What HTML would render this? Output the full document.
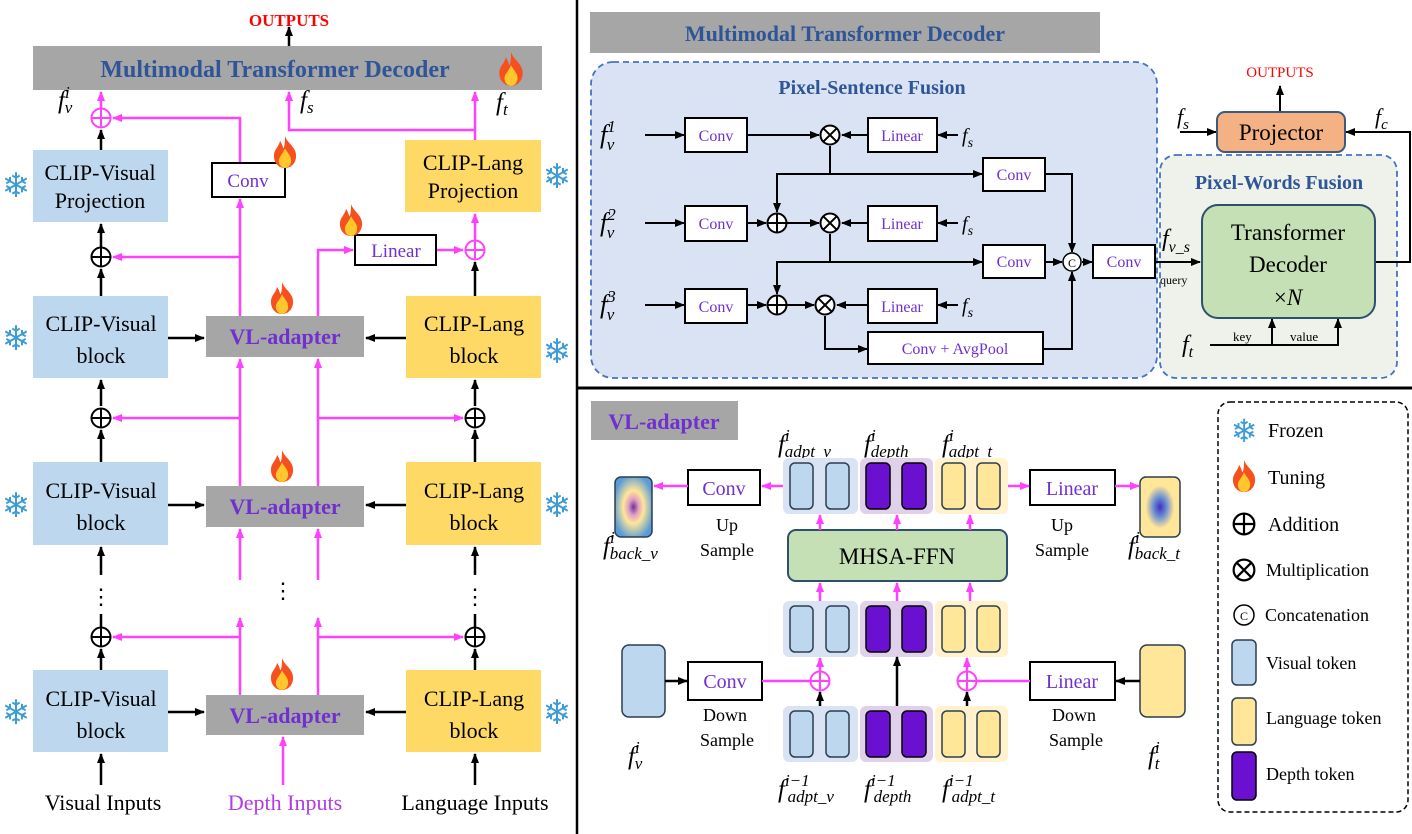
<!DOCTYPE html>
<html><head><meta charset="utf-8"><style>
html,body{margin:0;padding:0;background:#fff;}
svg{display:block;}
text{font-family:"Liberation Serif",serif;}
.m{font-style:italic;}
.sn{font-family:"DejaVu Sans",sans-serif;fill:#3d9bd6;}
</style></head><body>
<svg width="1412" height="834" viewBox="0 0 1412 834" xmlns="http://www.w3.org/2000/svg">
<defs>
<marker id="ak" markerUnits="userSpaceOnUse" markerWidth="10" markerHeight="10" refX="9" refY="5" orient="auto"><path d="M0,1 L10,5 L0,9 z" fill="#000"/></marker>
<marker id="ap" markerUnits="userSpaceOnUse" markerWidth="10" markerHeight="10" refX="9" refY="5" orient="auto"><path d="M0,1 L10,5 L0,9 z" fill="#ff40ff"/></marker>
<symbol id="fire" viewBox="0 0 20 26"><path d="M10 0 C12 6 19 9 19 16 C19 22 15 26 10 26 C5 26 1 22 1 16 C1 11 5 9 6 4 C8 7 8 9 9 10 C10 7 10 3 10 0Z" fill="#f5501e"/><path d="M10 10 C12 14 15 16 15 20 C15 24 12 26 10 26 C8 26 5 24 5 20 C5 17 8 15 10 10Z" fill="#ffc72c"/></symbol>
<symbol id="pk" viewBox="-11 -11 22 22"><circle r="9.5" fill="#fff" stroke="#000" stroke-width="2"/><path d="M-9.5 0H9.5M0 -9.5V9.5" stroke="#000" stroke-width="2"/></symbol>
<symbol id="pp" viewBox="-11 -11 22 22"><circle r="9.5" fill="#fff" stroke="#ff40ff" stroke-width="2"/><path d="M-9.5 0H9.5M0 -9.5V9.5" stroke="#ff40ff" stroke-width="2"/></symbol>
<symbol id="mu" viewBox="-11 -11 22 22"><circle r="9.5" fill="#fff" stroke="#000" stroke-width="2"/><path d="M-6.7 -6.7L6.7 6.7M6.7 -6.7L-6.7 6.7" stroke="#000" stroke-width="2"/></symbol>
</defs>

<!-- ============ LEFT PANEL ============ -->
<text x="289" y="26" text-anchor="middle" font-size="17" font-weight="bold" fill="#ff0000">OUTPUTS</text>
<rect x="33" y="46" width="509" height="44" fill="#a6a6a6"/>
<text x="275" y="77" text-anchor="middle" font-size="24" font-weight="bold" fill="#2f5597">Multimodal Transformer Decoder</text>
<use href="#fire" x="498" y="52" width="26" height="34"/>

<g stroke="#000" stroke-width="2.5" fill="none" marker-end="url(#ak)">
<line x1="289" y1="46" x2="289" y2="27"/>
<line x1="101" y1="150" x2="101" y2="130"/>
<line x1="101" y1="296" x2="101" y2="269"/>
<line x1="101" y1="247" x2="101" y2="224"/>
<line x1="475" y1="296" x2="475" y2="262"/>
<line x1="168" y1="338" x2="204" y2="338"/>
<line x1="406" y1="338" x2="366" y2="338"/>
<line x1="101" y1="462" x2="101" y2="430"/>
<line x1="101" y1="406" x2="101" y2="380"/>
<line x1="475" y1="462" x2="475" y2="430"/>
<line x1="475" y1="406" x2="475" y2="380"/>
<line x1="168" y1="505" x2="204" y2="505"/>
<line x1="406" y1="505" x2="366" y2="505"/>
<line x1="101" y1="575" x2="101" y2="547"/>
<line x1="475" y1="575" x2="475" y2="547"/>
<line x1="101" y1="670" x2="101" y2="649"/>
<line x1="475" y1="670" x2="475" y2="649"/>
<line x1="168" y1="712" x2="204" y2="712"/>
<line x1="406" y1="712" x2="366" y2="712"/>
<line x1="101" y1="785" x2="101" y2="754"/>
<line x1="475" y1="785" x2="475" y2="754"/>
</g>
<g stroke="#000" stroke-width="2.5">
<line x1="101" y1="627" x2="101" y2="614"/>
<line x1="475" y1="627" x2="475" y2="614"/>
</g>

<g stroke="#ff40ff" stroke-width="2.5" fill="none" marker-end="url(#ap)">
<line x1="101" y1="108" x2="101" y2="92"/>
<polyline points="240,163 240,118 113,118"/>
<polyline points="475,130 289,130 289,92"/>
<line x1="475" y1="140" x2="475" y2="92"/>
<line x1="240" y1="316" x2="240" y2="199"/>
<line x1="240" y1="257" x2="113" y2="257"/>
<polyline points="318,316 318,250 353,250"/>
<line x1="436" y1="250" x2="463" y2="250"/>
<line x1="475" y1="240" x2="475" y2="214"/>
<line x1="240" y1="486" x2="240" y2="359"/>
<line x1="240" y1="418" x2="113" y2="418"/>
<line x1="318" y1="486" x2="318" y2="359"/>
<line x1="318" y1="418" x2="463" y2="418"/>
<line x1="240" y1="580" x2="240" y2="529"/>
<line x1="318" y1="580" x2="318" y2="529"/>
<line x1="240" y1="695" x2="240" y2="618"/>
<line x1="240" y1="637" x2="113" y2="637"/>
<line x1="318" y1="695" x2="318" y2="618"/>
<line x1="318" y1="637" x2="463" y2="637"/>
<line x1="283" y1="785" x2="283" y2="737"/>
</g>

<use href="#pp" x="90" y="107" width="22" height="22"/>
<use href="#pk" x="90" y="246" width="22" height="22"/>
<use href="#pp" x="464" y="239" width="22" height="22"/>
<use href="#pk" x="90" y="407" width="22" height="22"/>
<use href="#pk" x="464" y="407" width="22" height="22"/>
<use href="#pk" x="90" y="626" width="22" height="22"/>
<use href="#pk" x="464" y="626" width="22" height="22"/>

<text x="58" y="108" font-size="25" class="m">f<tspan font-size="17" dy="-10">i</tspan><tspan font-size="17" dx="-5" dy="15">v</tspan></text>
<text x="300" y="108" font-size="25" class="m">f<tspan font-size="17" dy="5">s</tspan></text>
<text x="496" y="110" font-size="25" class="m">f<tspan font-size="17" dy="5">t</tspan></text>

<rect x="33" y="150" width="135" height="72" fill="#bdd7ee"/>
<text x="100" y="180" text-anchor="middle" font-size="22">CLIP-Visual</text>
<text x="100" y="208" text-anchor="middle" font-size="22">Projection</text>
<rect x="212" y="163" width="73" height="34" fill="#fff" stroke="#000" stroke-width="2"/>
<text x="248" y="187" text-anchor="middle" font-size="19" fill="#7030d0">Conv</text>
<use href="#fire" x="272" y="136" width="26" height="32"/>
<rect x="405" y="140" width="136" height="72" fill="#ffd966"/>
<text x="473" y="170" text-anchor="middle" font-size="22">CLIP-Lang</text>
<text x="473" y="198" text-anchor="middle" font-size="22">Projection</text>
<rect x="355" y="235" width="81" height="30" fill="#fff" stroke="#000" stroke-width="2"/>
<text x="396" y="257" text-anchor="middle" font-size="19" fill="#7030d0">Linear</text>
<use href="#fire" x="338" y="204" width="26" height="32"/>

<g font-size="22" text-anchor="middle">
<rect x="33" y="296" width="135" height="82" fill="#bdd7ee"/>
<text x="101" y="331">CLIP-Visual</text><text x="101" y="363">block</text>
<rect x="406" y="296" width="135" height="82" fill="#ffd966"/>
<text x="474" y="331">CLIP-Lang</text><text x="474" y="363">block</text>
<rect x="33" y="462" width="135" height="83" fill="#bdd7ee"/>
<text x="101" y="498">CLIP-Visual</text><text x="101" y="530">block</text>
<rect x="406" y="462" width="135" height="83" fill="#ffd966"/>
<text x="474" y="498">CLIP-Lang</text><text x="474" y="530">block</text>
<rect x="33" y="670" width="135" height="82" fill="#bdd7ee"/>
<text x="101" y="706">CLIP-Visual</text><text x="101" y="738">block</text>
<rect x="406" y="670" width="135" height="82" fill="#ffd966"/>
<text x="474" y="706">CLIP-Lang</text><text x="474" y="738">block</text>
</g>
<g font-size="22" font-weight="bold" text-anchor="middle" fill="#7030d0">
<rect x="206" y="316" width="158" height="41" fill="#a6a6a6"/><text x="285" y="344">VL-adapter</text>
<rect x="206" y="486" width="158" height="41" fill="#a6a6a6"/><text x="285" y="514">VL-adapter</text>
<rect x="206" y="695" width="158" height="40" fill="#a6a6a6"/><text x="285" y="723">VL-adapter</text>
</g>
<use href="#fire" x="269" y="282" width="26" height="32"/>
<use href="#fire" x="269" y="450" width="26" height="32"/>
<use href="#fire" x="269" y="658" width="26" height="32"/>

<g font-size="22" text-anchor="middle">
<text x="101" y="604">⋮</text><text x="283" y="598">⋮</text><text x="475" y="604">⋮</text>
</g>

<g class="sn" font-size="34" text-anchor="middle">
<text x="16" y="197">❄</text><text x="557" y="188">❄</text>
<text x="16" y="350">❄</text><text x="557" y="363">❄</text>
<text x="16" y="517">❄</text><text x="557" y="517">❄</text>
<text x="16" y="724">❄</text><text x="557" y="724">❄</text>
</g>

<text x="103" y="810" text-anchor="middle" font-size="22">Visual Inputs</text>
<text x="285" y="810" text-anchor="middle" font-size="22" fill="#b23be6">Depth Inputs</text>
<text x="475" y="810" text-anchor="middle" font-size="22">Language Inputs</text>

<line x1="577" y1="0" x2="577" y2="834" stroke="#000" stroke-width="2.5"/>
<line x1="577" y1="388" x2="1412" y2="388" stroke="#000" stroke-width="3"/>

<!-- ============ RIGHT TOP ============ -->
<rect x="590" y="12" width="510" height="41" fill="#a6a6a6"/>
<text x="845" y="41" text-anchor="middle" font-size="22" font-weight="bold" fill="#2f5597">Multimodal Transformer Decoder</text>

<rect x="591" y="62" width="566" height="316" rx="22" fill="#dae3f3" stroke="#4472c4" stroke-width="1.8" stroke-dasharray="6,4"/>
<text x="872" y="94" text-anchor="middle" font-size="20" font-weight="bold" fill="#2f5597">Pixel-Sentence Fusion</text>
<rect x="1160" y="155" width="237" height="223" rx="16" fill="#eef2ea" stroke="#4472c4" stroke-width="1.8" stroke-dasharray="6,4"/>
<text x="1279" y="189" text-anchor="middle" font-size="20" font-weight="bold" fill="#2f5597">Pixel-Words Fusion</text>

<g class="m" font-size="26">
<text x="600" y="143">f<tspan font-size="17" dy="-11">1</tspan><tspan font-size="17" dx="-9" dy="18">v</tspan></text>
<text x="600" y="231">f<tspan font-size="17" dy="-11">2</tspan><tspan font-size="17" dx="-9" dy="18">v</tspan></text>
<text x="600" y="313">f<tspan font-size="17" dy="-11">3</tspan><tspan font-size="17" dx="-9" dy="18">v</tspan></text>
<text x="962" y="142" font-size="20">f<tspan font-size="14" dy="5">s</tspan></text>
<text x="962" y="230" font-size="20">f<tspan font-size="14" dy="5">s</tspan></text>
<text x="962" y="312" font-size="20">f<tspan font-size="14" dy="5">s</tspan></text>
</g>

<g fill="#fff" stroke="#000" stroke-width="2">
<rect x="685" y="118" width="62" height="34"/>
<rect x="685" y="206" width="62" height="35"/>
<rect x="685" y="289" width="62" height="34"/>
<rect x="868" y="118" width="69" height="34"/>
<rect x="868" y="206" width="69" height="35"/>
<rect x="868" y="289" width="69" height="34"/>
<rect x="983" y="158" width="62" height="33"/>
<rect x="983" y="245" width="62" height="33"/>
<rect x="868" y="332" width="175" height="32"/>
<rect x="1093" y="245" width="62" height="33"/>
</g>
<g font-size="16" fill="#7030d0" text-anchor="middle">
<text x="716" y="141">Conv</text><text x="716" y="229">Conv</text><text x="716" y="312">Conv</text>
<text x="902" y="141">Linear</text><text x="902" y="229">Linear</text><text x="902" y="312">Linear</text>
<text x="1014" y="180">Conv</text><text x="1014" y="267">Conv</text>
<text x="955" y="354">Conv + AvgPool</text><text x="1124" y="267">Conv</text>
</g>

<g stroke="#000" stroke-width="2" fill="none" marker-end="url(#ak)">
<line x1="645" y1="135" x2="684" y2="135"/>
<line x1="645" y1="223" x2="684" y2="223"/>
<line x1="645" y1="305" x2="684" y2="305"/>
<line x1="747" y1="135" x2="819" y2="135"/>
<line x1="747" y1="223" x2="766" y2="223"/>
<line x1="787" y1="223" x2="819" y2="223"/>
<line x1="747" y1="305" x2="766" y2="305"/>
<line x1="787" y1="305" x2="814" y2="305"/>
<line x1="868" y1="135" x2="842" y2="135"/>
<line x1="868" y1="223" x2="842" y2="223"/>
<line x1="868" y1="305" x2="837" y2="305"/>
<line x1="958" y1="135" x2="938" y2="135"/>
<line x1="958" y1="223" x2="938" y2="223"/>
<line x1="958" y1="305" x2="938" y2="305"/>
<polyline points="830,146 830,174 982,174"/>
<polyline points="830,174 777,174 777,212"/>
<polyline points="830,234 830,262 982,262"/>
<polyline points="830,262 777,262 777,294"/>
<polyline points="825,316 825,349 867,349"/>
<polyline points="1045,174 1072,174 1072,252"/>
<line x1="1045" y1="262" x2="1062" y2="262"/>
<polyline points="1043,349 1072,349 1072,272"/>
<line x1="1082" y1="262" x2="1092" y2="262"/>
<line x1="1155" y1="262" x2="1200" y2="262"/>
<line x1="1280" y1="112" x2="1280" y2="86"/>
<line x1="1180" y1="132" x2="1216" y2="132"/>
<polyline points="1375,262 1410,262 1410,132 1346,132"/>
<line x1="1272" y1="345" x2="1272" y2="319"/>
<polyline points="1210,345 1338,345 1338,319"/>
</g>
<use href="#mu" x="819" y="124" width="22" height="22"/>
<use href="#mu" x="819" y="212" width="22" height="22"/>
<use href="#mu" x="814" y="294" width="22" height="22"/>
<use href="#pk" x="766" y="212" width="22" height="22"/>
<use href="#pk" x="766" y="294" width="22" height="22"/>
<circle cx="1072" cy="262" r="9" fill="#fff" stroke="#000" stroke-width="1.5"/>
<text x="1072" y="267" text-anchor="middle" font-size="12">C</text>

<text x="1162" y="246" class="m" font-size="24">f<tspan font-size="16" dy="6">v_s</tspan></text>
<text x="1160" y="284" font-size="12">query</text>

<rect x="1202" y="205" width="173" height="113" rx="16" fill="#c5e0b4" stroke="#2f4f6f" stroke-width="2"/>
<text x="1288" y="240" text-anchor="middle" font-size="23">Transformer</text>
<text x="1288" y="272" text-anchor="middle" font-size="23">Decoder</text>
<text x="1288" y="305" text-anchor="middle" font-size="23">×<tspan class="m">N</tspan></text>

<rect x="1217" y="112" width="128" height="40" rx="8" fill="#f4b183" stroke="#3e5a7a" stroke-width="2"/>
<text x="1281" y="140" text-anchor="middle" font-size="23">Projector</text>
<text x="1280" y="77" text-anchor="middle" font-size="15" fill="#ff0000">OUTPUTS</text>
<text x="1177" y="124" class="m" font-size="22">f<tspan font-size="15" dy="5">s</tspan></text>
<text x="1375" y="124" class="m" font-size="22">f<tspan font-size="15" dy="5">c</tspan></text>
<text x="1182" y="352" class="m" font-size="24">f<tspan font-size="16" dy="5">t</tspan></text>
<text x="1233" y="341" font-size="13">key</text>
<text x="1290" y="341" font-size="13">value</text>

<!-- ============ RIGHT BOTTOM ============ -->
<rect x="591" y="401" width="147" height="39" fill="#a6a6a6"/>
<text x="664" y="429" text-anchor="middle" font-size="22" font-weight="bold" fill="#7030d0">VL-adapter</text>

<g class="m" font-size="25">
<text x="778" y="452">f<tspan font-size="17" dy="-11">i</tspan><tspan font-size="17" dx="-5" dy="16">adpt_v</tspan></text>
<text x="864" y="452">f<tspan font-size="17" dy="-11">i</tspan><tspan font-size="17" dx="-5" dy="16">depth</tspan></text>
<text x="942" y="452">f<tspan font-size="17" dy="-11">i</tspan><tspan font-size="17" dx="-5" dy="16">adpt_t</tspan></text>
<text x="778" y="797">f<tspan font-size="17" dy="-11">i−1</tspan><tspan font-size="17" dx="-22" dy="16">adpt_v</tspan></text>
<text x="864" y="797">f<tspan font-size="17" dy="-11">i−1</tspan><tspan font-size="17" dx="-22" dy="16">depth</tspan></text>
<text x="942" y="797">f<tspan font-size="17" dy="-11">i−1</tspan><tspan font-size="17" dx="-22" dy="16">adpt_t</tspan></text>
<text x="603" y="554">f<tspan font-size="17" dy="-11">i</tspan><tspan font-size="17" dx="-5" dy="16">back_v</tspan></text>
<text x="1128" y="554">f<tspan font-size="17" dy="-11">i</tspan><tspan font-size="17" dx="-5" dy="16">back_t</tspan></text>
<text x="628" y="764">f<tspan font-size="17" dy="-11">i</tspan><tspan font-size="17" dx="-5" dy="16">v</tspan></text>
<text x="1148" y="764">f<tspan font-size="17" dy="-11">i</tspan><tspan font-size="17" dx="-5" dy="16">t</tspan></text>
</g>

<g id="tg">
<rect x="783" y="458" width="75" height="56" rx="6" fill="#dae3f3"/>
<rect x="860" y="458" width="73" height="56" rx="6" fill="#e0d0ea"/>
<rect x="935" y="458" width="73" height="56" rx="6" fill="#fff2cc"/>
<g stroke="#2c3e50" stroke-width="1.5">
<rect x="790" y="463" width="23" height="46" rx="5" fill="#bdd7ee"/>
<rect x="826" y="463" width="23" height="46" rx="5" fill="#bdd7ee"/>
<rect x="866" y="463" width="24" height="46" rx="5" fill="#6a10d0" stroke="#000"/>
<rect x="902" y="463" width="24" height="46" rx="5" fill="#6a10d0" stroke="#000"/>
<rect x="942" y="463" width="23" height="46" rx="5" fill="#ffe699"/>
<rect x="977" y="463" width="23" height="46" rx="5" fill="#ffe699"/>
</g>
</g>
<use href="#tg" y="143"/>
<use href="#tg" y="248"/>

<rect x="788" y="530" width="219" height="51" rx="8" fill="#c5e0b4" stroke="#2f4f6f" stroke-width="2"/>
<text x="897" y="564" text-anchor="middle" font-size="23">MHSA-FFN</text>

<defs>
<radialGradient id="gv" cx="50%" cy="50%" r="55%"><stop offset="0" stop-color="#7030a0"/><stop offset="0.25" stop-color="#e0a0c0"/><stop offset="0.5" stop-color="#ffe699"/><stop offset="1" stop-color="#5b9bd5"/></radialGradient>
<radialGradient id="gt" cx="50%" cy="50%" r="55%"><stop offset="0" stop-color="#4030c0"/><stop offset="0.3" stop-color="#6a8fd5"/><stop offset="0.65" stop-color="#ffe699"/><stop offset="1" stop-color="#ffe699"/></radialGradient>
</defs>
<rect x="615" y="477" width="37" height="60" rx="6" fill="url(#gv)" stroke="#2c3e50" stroke-width="1.5"/>
<rect x="1140" y="477" width="40" height="60" rx="6" fill="url(#gt)" stroke="#2c3e50" stroke-width="1.5"/>
<rect x="622" y="645" width="43" height="72" rx="7" fill="#bdd7ee" stroke="#2c3e50" stroke-width="1.5"/>
<rect x="1140" y="645" width="45" height="72" rx="7" fill="#ffe699" stroke="#2c3e50" stroke-width="1.5"/>

<g fill="#fff" stroke="#000" stroke-width="2">
<rect x="688" y="470" width="72" height="35"/>
<rect x="1030" y="470" width="85" height="35"/>
<rect x="688" y="662" width="74" height="38"/>
<rect x="1030" y="662" width="85" height="38"/>
</g>
<g font-size="20" fill="#7030d0" text-anchor="middle">
<text x="724" y="495">Conv</text><text x="1072" y="495">Linear</text>
<text x="725" y="688">Conv</text><text x="1072" y="688">Linear</text>
</g>
<g font-size="18" text-anchor="middle">
<text x="727" y="531">Up</text><text x="727" y="556">Sample</text>
<text x="1062" y="531">Up</text><text x="1062" y="556">Sample</text>
<text x="725" y="721">Down</text><text x="727" y="746">Sample</text>
<text x="1074" y="721">Down</text><text x="1076" y="746">Sample</text>
</g>

<g stroke="#ff40ff" stroke-width="2.5" fill="none" marker-end="url(#ap)">
<line x1="783" y1="486" x2="762" y2="486"/>
<line x1="688" y1="486" x2="654" y2="486"/>
<line x1="1008" y1="486" x2="1029" y2="486"/>
<line x1="1115" y1="486" x2="1139" y2="486"/>
<line x1="820" y1="530" x2="820" y2="515"/>
<line x1="897" y1="530" x2="897" y2="515"/>
<line x1="970" y1="530" x2="970" y2="515"/>
<line x1="820" y1="601" x2="820" y2="583"/>
<line x1="897" y1="601" x2="897" y2="583"/>
<line x1="970" y1="601" x2="970" y2="583"/>
<line x1="820" y1="671" x2="820" y2="658"/>
<line x1="967" y1="671" x2="967" y2="658"/>
</g>
<g stroke="#ff40ff" stroke-width="2.5">
<line x1="762" y1="681" x2="810" y2="681"/>
<line x1="977" y1="681" x2="1030" y2="681"/>
</g>
<g stroke="#000" stroke-width="2.5" fill="none" marker-end="url(#ak)">
<line x1="665" y1="681" x2="687" y2="681"/>
<line x1="1140" y1="681" x2="1116" y2="681"/>
<line x1="820" y1="706" x2="820" y2="692"/>
<line x1="967" y1="706" x2="967" y2="692"/>
<line x1="897" y1="706" x2="897" y2="657"/>
</g>
<use href="#pp" x="809" y="670" width="22" height="22"/>
<use href="#pp" x="956" y="670" width="22" height="22"/>

<rect x="1218" y="402" width="190" height="410" rx="12" fill="#fff" stroke="#000" stroke-width="1.5" stroke-dasharray="5,3"/>
<text x="1244" y="442" class="sn" font-size="32" text-anchor="middle">❄</text>
<text x="1268" y="437" font-size="20">Frozen</text>
<use href="#fire" x="1231" y="460" width="26" height="32"/>
<text x="1268" y="484" font-size="20">Tuning</text>
<use href="#pk" x="1232" y="512" width="24" height="24"/>
<text x="1268" y="531" font-size="20">Addition</text>
<use href="#mu" x="1232" y="558" width="24" height="24"/>
<text x="1266" y="576" font-size="18">Multiplication</text>
<circle cx="1244" cy="615" r="10" fill="#fff" stroke="#000" stroke-width="1.5"/>
<text x="1244" y="620" text-anchor="middle" font-size="12">C</text>
<text x="1265" y="621" font-size="18">Concatenation</text>
<rect x="1232" y="640" width="24" height="45" rx="5" fill="#bdd7ee" stroke="#2c3e50" stroke-width="1.5"/>
<text x="1266" y="669" font-size="18">Visual token</text>
<rect x="1232" y="698" width="24" height="47" rx="5" fill="#ffe699" stroke="#2c3e50" stroke-width="1.5"/>
<text x="1266" y="724" font-size="18">Language token</text>
<rect x="1232" y="752" width="24" height="48" rx="5" fill="#6a10d0" stroke="#000" stroke-width="1.5"/>
<text x="1266" y="780" font-size="18">Depth token</text>
</svg>
</body></html>
